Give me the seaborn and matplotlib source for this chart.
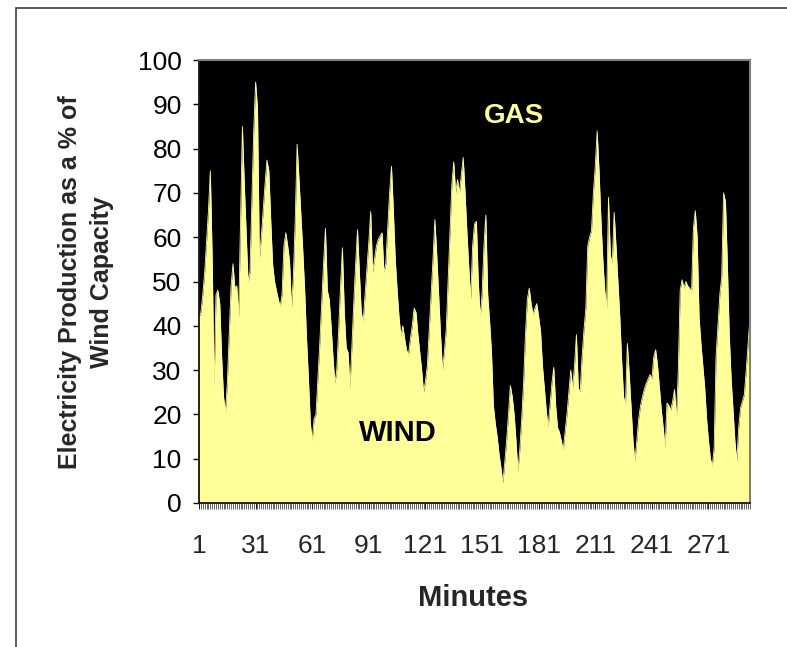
import numpy as np
import pandas as pd
import matplotlib
matplotlib.use("Agg")
import matplotlib.pyplot as plt
import seaborn as sns
from matplotlib.patches import Rectangle

# Wind production as % of wind capacity, one value per minute
wind = [
    42, 43, 47, 52, 59, 66, 75, 55, 26, 47,
    48, 45, 33, 24, 20.5, 27, 38, 49, 54, 48.5,
    49, 42, 63, 85, 72, 61, 50, 52, 68, 84,
    95, 89, 55, 60, 66, 72, 77.4, 75, 64, 54,
    50, 48, 46, 44.3, 47, 58, 61, 58, 54.5, 44,
    51, 64, 81, 73, 65, 57, 48, 37, 28, 18,
    14, 19, 20, 28, 36, 45, 54, 62, 48, 46,
    40, 33, 27, 30, 39, 49, 57.6, 43, 35, 34,
    26, 35, 45, 54, 61.7, 52, 43, 41, 47, 53,
    59, 65.8, 52, 55, 58, 59.5, 60.3, 61, 52, 54,
    62, 70, 76, 66, 55, 48, 42, 37.6, 40, 37,
    34.5, 33.4, 37, 40, 44, 43, 38, 34, 30, 25,
    27.5, 31, 39, 47, 55, 64, 56, 47, 38, 30,
    34, 39, 50, 61, 72, 77, 70, 73, 70, 74,
    78, 70, 61, 53, 46, 58, 63, 63.6, 50, 42,
    47, 58, 65, 47, 41, 34, 22, 18, 15, 11,
    8, 4.5, 9, 14, 20, 26.5, 24, 20, 14, 7,
    12, 19, 27, 38, 46, 48.5, 45, 42.5, 44, 45,
    42, 38.8, 31, 26, 21, 17, 22, 27, 30.6, 22,
    17, 16, 14, 12, 16, 20, 25, 30, 26, 31,
    38, 26, 25, 33, 39, 44, 58, 60, 61.5, 70,
    76, 84, 75, 64, 55, 48, 44, 69, 56, 54,
    65.6, 58, 50, 42, 32, 24, 22, 36, 29, 21.4,
    14, 9.4, 14, 19, 22, 24, 25.7, 27, 28, 29,
    28, 33, 34.6, 31, 26, 21, 17, 12.4, 22.6, 22,
    21, 23, 25.6, 19, 30, 48, 50.4, 48.5, 50, 49,
    48.5, 47.5, 62, 66, 60, 42, 36, 31, 26, 19,
    14, 10, 8.3, 12.4, 33, 40, 47, 51, 70, 68,
    54, 38, 28, 21, 14, 9.4, 17, 21.5, 23, 24.5,
    30, 36, 42,
]
minutes = list(range(1, len(wind) + 1))
gas = [100 - w for w in wind]
tick_minutes = [1, 31, 61, 91, 121, 151, 181, 211, 241, 271]
y_ticks = [0, 10, 20, 30, 40, 50, 60, 70, 80, 90, 100]

df = pd.DataFrame({"Minute": minutes, "Wind": wind, "Gas": gas})

sns.set_style("white")
plt.rcParams["font.family"] = ["Liberation Sans", "DejaVu Sans"]

W, H = 787, 647
fig = plt.figure(figsize=(W / 100, H / 100), dpi=100)
ax = fig.add_axes([199 / W, 1 - 503 / H, 551 / W, 443 / H])

yellow = "#FFFF99"
ax.fill_between(df["Minute"], 0, df["Wind"], color=yellow, linewidth=0)
ax.fill_between(df["Minute"], df["Wind"], 100, color="black", linewidth=0)
sns.lineplot(data=df, x="Minute", y="Wind", ax=ax, color=yellow, linewidth=0.6)

ax.set_xlim(1, len(wind))
ax.set_ylim(0, 100)
ax.set_xticks(tick_minutes)
ax.set_xticklabels([str(t) for t in tick_minutes])
ax.set_xticks(minutes, minor=True)
ax.set_yticks(y_ticks)
ax.set_yticklabels([str(t) for t in y_ticks])
ax.set_xlabel("")
ax.set_ylabel("")

ax.tick_params(axis="y", which="major", direction="out", length=4.5, width=1,
               labelsize=19, pad=8, left=True, colors="black")
ax.tick_params(axis="x", which="major", direction="out", length=4, width=0.8,
               labelsize=19, pad=18, bottom=True)
ax.tick_params(axis="x", which="minor", direction="out", length=4, width=0.5,
               bottom=True)

for side in ["top", "right"]:
    ax.spines[side].set_color("#808080")
    ax.spines[side].set_linewidth(1.5)
for side in ["left", "bottom"]:
    ax.spines[side].set_color("black")
    ax.spines[side].set_linewidth(1.2)

ax.text(0.572, 0.874, "GAS", transform=ax.transAxes, ha="center", va="center",
        fontsize=20, fontweight="bold", color=yellow)
ax.text(0.361, 0.158, "WIND", transform=ax.transAxes, ha="center", va="center",
        fontsize=21, fontweight="bold", color="black")

fig.text(86 / W, 1 - 282 / H, "Electricity Production as a % of\nWind Capacity",
         rotation=90, ha="center", va="center", fontsize=18, fontweight="bold",
         linespacing=1.45)
fig.text(473 / W, 1 - 598 / H, "Minutes", ha="center", va="center",
         fontsize=21, fontweight="bold")

fig.patches.append(Rectangle((16 / W, -0.1), 1.2, 1 - 8 / H + 0.1,
                             transform=fig.transFigure, fill=False,
                             edgecolor="#404040", linewidth=1.2))

fig.savefig("out.png", dpi=100)
